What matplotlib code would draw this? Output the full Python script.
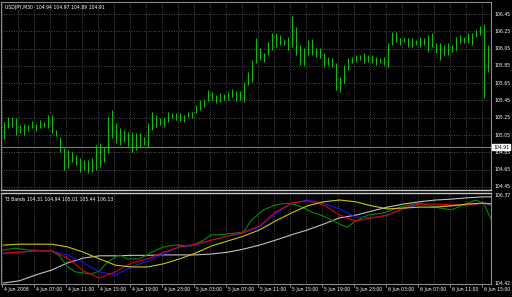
import matplotlib
matplotlib.use('Agg')
import matplotlib.pyplot as plt
import matplotlib.transforms as mtrans
import numpy as np

#_________________________________________
# DATA (USDJPY M30 bars)
#_________________________________________
highs = [105.20, 105.26, 105.26, 105.25, 105.17, 105.18, 105.17, 105.21, 105.18, 105.22,
         105.20, 105.28, 105.28, 105.11, 105.03, 104.90, 104.88, 104.85, 104.82, 104.79,
         104.76, 104.76, 104.79, 104.94, 104.96, 104.91, 105.26, 105.34, 105.19, 105.13,
         105.11, 105.09, 105.09, 105.07, 105.07, 105.03, 105.19, 105.32, 105.28, 105.25,
         105.26, 105.32, 105.31, 105.31, 105.31, 105.28, 105.32, 105.32, 105.40, 105.46,
         105.47, 105.57, 105.55, 105.51, 105.54, 105.53, 105.55, 105.58, 105.56, 105.56,
         105.66, 105.78, 105.92, 106.17, 106.06, 106.00, 106.13, 106.23, 106.23, 106.21,
         106.15, 106.18, 106.43, 106.30, 106.09, 106.06, 106.15, 106.16, 106.06, 106.06,
         106.00, 105.95, 105.94, 105.88, 105.72, 105.86, 105.94, 105.95, 105.98, 105.98,
         106.00, 105.98, 105.98, 105.95, 105.94, 105.95, 106.12, 106.24, 106.24, 106.17,
         106.18, 106.17, 106.17, 106.15, 106.18, 106.17, 106.21, 106.23, 106.12, 106.12,
         106.09, 106.12, 106.09, 106.18, 106.21, 106.18, 106.23, 106.23, 106.27, 106.31,
         106.33, 106.09, 105.84]
lows = [105.01, 105.13, 105.14, 105.05, 105.07, 105.05, 105.10, 105.13, 105.10, 105.13,
        105.14, 105.13, 105.07, 105.04, 104.85, 104.65, 104.67, 104.74, 104.70, 104.62,
        104.65, 104.61, 104.62, 104.65, 104.68, 104.74, 104.84, 105.02, 104.96, 104.94,
        104.97, 104.91, 104.85, 104.88, 104.91, 104.94, 104.90, 105.11, 105.14, 105.17,
        105.14, 105.20, 105.25, 105.22, 105.21, 105.20, 105.26, 105.25, 105.31, 105.34,
        105.38, 105.44, 105.46, 105.42, 105.43, 105.46, 105.46, 105.49, 105.44, 105.46,
        105.43, 105.63, 105.66, 105.88, 105.92, 105.90, 105.98, 106.03, 106.07, 106.09,
        106.09, 106.03, 106.07, 105.98, 105.86, 105.86, 105.98, 105.98, 105.95, 105.94,
        105.84, 105.86, 105.84, 105.57, 105.55, 105.65, 105.80, 105.88, 105.90, 105.92,
        105.88, 105.90, 105.88, 105.86, 105.88, 105.86, 105.84, 106.09, 106.13, 106.09,
        106.13, 106.07, 106.07, 106.09, 106.07, 106.09, 106.01, 106.07, 106.00, 105.92,
        105.98, 105.98, 106.01, 106.03, 106.12, 106.12, 106.12, 106.09, 106.18, 106.21,
        105.48, 105.78, 105.63]
last_close = 104.91
title_main = "USDJPY,M30  104.94 104.97 104.89 104.91"

# T3 bands indicator, sampled every 4 bars (plus last bar)
t3_bars = list(range(0, 121, 4)) + [122]
t3_gray = [104.42, 104.47, 104.60, 104.71, 104.87, 104.98, 105.03, 105.03, 105.04, 105.04,
           105.05, 105.05, 105.05, 105.07, 105.11, 105.18, 105.27, 105.38, 105.50, 105.61,
           105.74, 105.88, 105.94, 106.03, 106.12, 106.19, 106.24, 106.28, 106.30, 106.33,
           106.35, 106.35]
t3_yellow = [105.27, 105.29, 105.29, 105.29, 105.23, 105.11, 104.96, 104.82, 104.78, 104.78,
             104.85, 104.96, 105.09, 105.25, 105.36, 105.47, 105.61, 105.81, 105.99, 106.15,
             106.24, 106.28, 106.24, 106.15, 106.08, 106.10, 106.12, 106.12, 106.15, 106.19,
             106.21, 106.19]
t3_red = [105.09, 105.11, 105.14, 105.14, 104.98, 104.69, 104.53, 104.67, 104.87, 104.96,
          105.11, 105.23, 105.29, 105.38, 105.47, 105.56, 105.70, 106.01, 106.21, 106.26,
          106.17, 105.94, 105.81, 105.88, 105.94, 106.10, 106.19, 106.19, 106.17, 106.17,
          106.21, 106.19]
t3_blue = [105.09, 105.11, 105.14, 105.14, 105.05, 104.87, 104.67, 104.60, 104.78, 104.91,
           105.07, 105.23, 105.27, 105.38, 105.47, 105.54, 105.67, 105.97, 106.21, 106.28,
           106.21, 106.08, 105.90, 105.88, 105.94, 106.08, 106.17, 106.15, 106.15, 106.17,
           106.21, 106.15]
green_bars = [0, 3, 6, 12, 14, 16, 18, 22, 24, 26, 29, 31, 34, 37, 40, 43, 47, 50, 52, 54,
              58, 60, 62, 65, 68, 71, 74, 77, 80, 83, 85, 86, 88, 91, 95, 99, 104, 109, 112,
              116, 118, 120, 122]
t3_green = [105.16, 105.20, 105.16, 105.14, 105.03, 104.78, 104.67, 104.62, 104.69, 104.89,
            105.05, 104.96, 104.96, 105.11, 105.23, 105.27, 105.25, 105.38, 105.50, 105.50,
            105.54, 105.56, 105.83, 106.06, 106.17, 106.21, 106.15, 106.01, 105.92, 105.79,
            105.70, 105.67, 105.81, 105.94, 105.99, 106.12, 106.21, 106.10, 106.06, 106.21,
            106.28, 106.21, 105.83]
title_ind = "T3 Bands 104.31 104.94 105.01 105.44 106.13"
ind_labels = [106.37, 104.42]

price_ticks = [106.45, 106.25, 106.05, 105.85, 105.65, 105.45, 105.25, 105.05, 104.85, 104.65, 104.45]
time_labels = ["4 Jun 2008", "4 Jun 07:00", "4 Jun 11:00", "4 Jun 15:00", "4 Jun 19:00",
               "4 Jun 23:00", "5 Jun 03:00", "5 Jun 07:00", "5 Jun 11:00", "5 Jun 15:00",
               "5 Jun 19:00", "5 Jun 23:00", "6 Jun 03:00", "6 Jun 07:00", "6 Jun 11:00",
               "6 Jun 15:00"]

#_________________________________________
# PLOT
#_________________________________________
W, H = 512, 297
fs = 3.3
grid_col = '#6a6a6a'
frame_col = '#8a8a8a'

fig = plt.figure(figsize=(W/100, H/100), dpi=100, facecolor='black')
ax = fig.add_axes([1/W, 1-190/H, 490/W, 188/H])
ax2 = fig.add_axes([1/W, 1-284/H, 490/W, 91/H])

n = len(highs)
idx = np.arange(n)
for a in (ax, ax2):
    a.set_facecolor('black')
    a.set_xlim(-0.625, 121.875)   # bar centres on pixel centres
    a.set_xticks([])
    a.set_yticks([])
    for s in a.spines.values():
        s.set_color(frame_col)
        s.set_linewidth(0.8)
    for k in range(0, 31):
        a.axvline(4*k - 0.5, color=grid_col, lw=0.6, ls=(0, (1, 2)), zorder=0)

# main panel
ax.set_ylim(104.415, 106.589)
for v in price_ticks:
    ax.axhline(v, color=grid_col, lw=0.6, ls=(0, (1, 2)), zorder=0)
ax.vlines(idx, lows, highs, color='#00c800', lw=0.75, zorder=2)
ax.axhline(last_close, color='#7a7a7a', lw=0.8, zorder=1)
ax.spines['bottom'].set_color('#c8c8c8')
ax.spines['bottom'].set_linewidth(1.0)

tr = mtrans.blended_transform_factory(ax.transAxes, ax.transData)
for v in price_ticks:
    ax.text(1.007, v, '%.2f' % v, transform=tr, color='white', fontsize=fs,
            va='center', ha='left', clip_on=False)
ax.text(1.004, last_close, '%.2f' % last_close, transform=tr, color='black', fontsize=fs,
        va='center', ha='left', clip_on=False,
        bbox=dict(boxstyle='square,pad=0.15', fc='white', ec='white'))
ax.text(0.008, 0.985, title_main, transform=ax.transAxes, color='white', fontsize=fs,
        va='top', ha='left')

# indicator panel
ax2.set_ylim(104.398, 106.437)
ax2.spines['top'].set_color('#c8c8c8')
ax2.spines['top'].set_linewidth(1.0)
ax2.plot(t3_bars, t3_gray, color='#c0c0c0', lw=0.8)
ax2.plot(green_bars, t3_green, color='#008c00', lw=0.8)
ax2.plot(t3_bars, t3_blue, color='#1414ff', lw=0.8)
ax2.plot(t3_bars, t3_red, color='#e00000', lw=0.8)
ax2.plot(t3_bars, t3_yellow, color='#c8c800', lw=0.8)

tr2 = mtrans.blended_transform_factory(ax2.transAxes, ax2.transData)
for v in ind_labels:
    ax2.text(1.007, v, '%.2f' % v, transform=tr2, color='white', fontsize=fs,
             va='center', ha='left', clip_on=False)
ax2.text(0.006, 0.96, title_ind, transform=ax2.transAxes, color='white', fontsize=fs,
         va='top', ha='left')

trx = mtrans.blended_transform_factory(ax2.transData, ax2.transAxes)
for k, lab in enumerate(time_labels):
    ax2.text(8*k + 0.1, -0.035, lab, transform=trx, color='white', fontsize=fs,
             va='top', ha='left', clip_on=False)
    ax2.plot([8*k - 0.5, 8*k - 0.5], [-0.035, 0], transform=trx, color=frame_col,
             lw=0.6, clip_on=False)

fig.savefig('out.png', dpi=100, facecolor='black')
